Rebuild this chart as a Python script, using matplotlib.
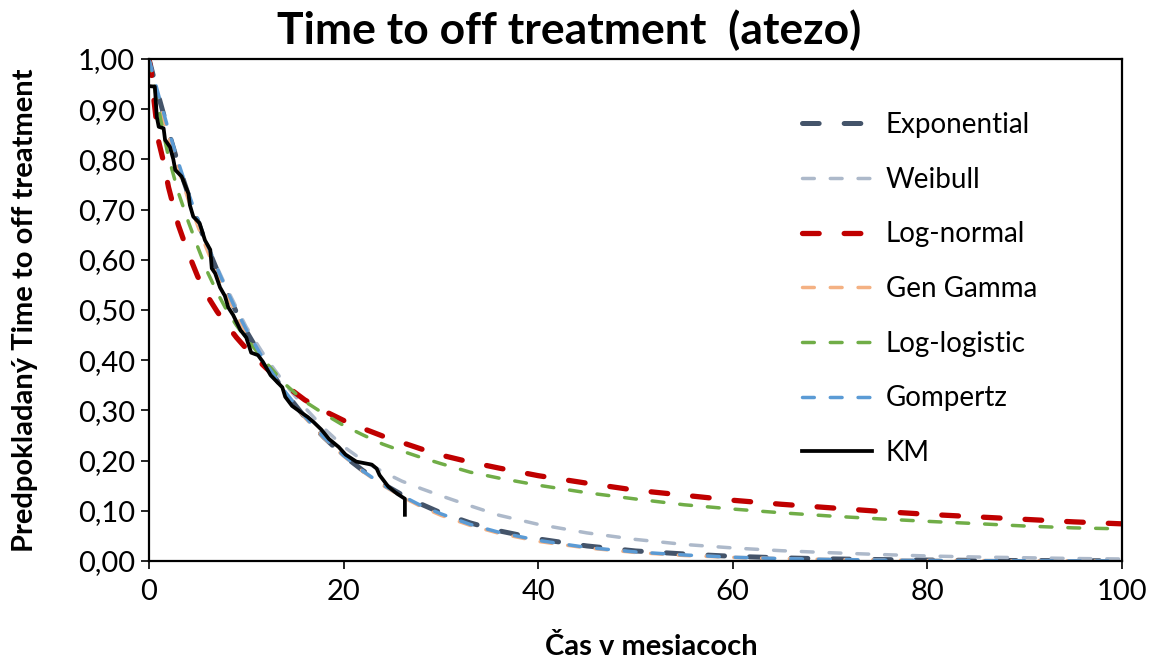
import numpy as np
import matplotlib
matplotlib.use('Agg')
import matplotlib.pyplot as plt
from matplotlib.ticker import FuncFormatter

plt.rcParams['font.family'] = ['Lato', 'DejaVu Sans']
plt.rcParams['lines.scale_dashes'] = False

# months at which the fitted survival curves are tabulated
t_fit = [0, 0.25, 0.5, 1, 1.5, 2, 3, 4, 5, 6, 7, 8, 9, 10, 12, 14, 16, 18, 20, 22,
         24, 26, 28, 30, 33, 36, 40, 45, 50, 55, 60, 65, 70, 75, 80, 85, 90, 95, 100]

exp_s = [1.000, 0.981, 0.962, 0.925, 0.890, 0.856, 0.791, 0.732, 0.677, 0.626, 0.579,
         0.536, 0.495, 0.458, 0.392, 0.336, 0.287, 0.246, 0.210, 0.180, 0.154, 0.132,
         0.113, 0.096, 0.076, 0.060, 0.044, 0.030, 0.020, 0.014, 0.0093, 0.0063, 0.0042,
         0.0029, 0.0019, 0.0013, 0.0009, 0.0006, 0.0004]
weib_s = [1.000, 0.975, 0.955, 0.918, 0.884, 0.851, 0.789, 0.732, 0.679, 0.630, 0.585,
          0.543, 0.504, 0.466, 0.405, 0.352, 0.306, 0.264, 0.228, 0.200, 0.178, 0.159,
          0.144, 0.130, 0.110, 0.091, 0.073, 0.056, 0.043, 0.033, 0.026, 0.0205, 0.0165,
          0.013, 0.010, 0.008, 0.0065, 0.005, 0.004]
lnorm_s = [1.000, 0.970, 0.920, 0.835, 0.795, 0.745, 0.670, 0.615, 0.567, 0.528, 0.497,
           0.470, 0.445, 0.423, 0.385, 0.350, 0.321, 0.299, 0.280, 0.264, 0.249, 0.236,
           0.223, 0.211, 0.197, 0.185, 0.170, 0.155, 0.141, 0.131, 0.121, 0.113, 0.106,
           0.099, 0.093, 0.088, 0.083, 0.078, 0.074]
gamma_s = [1.000, 0.975, 0.955, 0.915, 0.878, 0.845, 0.781, 0.722, 0.668, 0.618, 0.572,
           0.530, 0.490, 0.454, 0.389, 0.334, 0.286, 0.245, 0.209, 0.178, 0.151, 0.128,
           0.108, 0.091, 0.071, 0.055, 0.039, 0.026, 0.017, 0.011, 0.0072, 0.0047, 0.0031,
           0.0020, 0.0013, 0.0009, 0.0006, 0.0004, 0.0003]
llog_s = [1.000, 0.975, 0.950, 0.900, 0.850, 0.805, 0.735, 0.678, 0.626, 0.576, 0.535,
          0.499, 0.469, 0.443, 0.396, 0.352, 0.318, 0.293, 0.270, 0.251, 0.233, 0.219,
          0.206, 0.194, 0.177, 0.165, 0.151, 0.136, 0.1235, 0.112, 0.1035, 0.096, 0.0896,
          0.084, 0.079, 0.0745, 0.0697, 0.066, 0.064]
gomp_s = [1.000, 0.982, 0.963, 0.927, 0.893, 0.859, 0.795, 0.736, 0.681, 0.630, 0.583,
          0.539, 0.498, 0.461, 0.394, 0.337, 0.288, 0.246, 0.210, 0.179, 0.152, 0.130,
          0.110, 0.094, 0.073, 0.057, 0.041, 0.027, 0.018, 0.012, 0.0075, 0.0048, 0.0031,
          0.0019, 0.0012, 0.0008, 0.0005, 0.0003, 0.0002]

# Kaplan-Meier estimate
km_t = [0, 0.6, 0.8, 1.0, 1.5, 1.65, 2.15, 2.5, 2.7, 3.35, 4.05, 4.2, 4.55, 5.2, 5.75,
        6.3, 6.45, 6.8, 7.3, 7.8, 8.15, 8.65, 9.4, 10.0, 10.5, 11.2, 11.7, 12.5, 13.7,
        14.0, 14.7, 15.7, 16.3, 16.9, 17.7, 18.5, 19.5, 20.2, 21.3, 22.9, 23.4, 23.7,
        24.6, 25.5, 26.3, 26.3]
km_s = [0.946, 0.945, 0.885, 0.865, 0.862, 0.839, 0.825, 0.800, 0.779, 0.766, 0.732,
        0.709, 0.686, 0.673, 0.639, 0.620, 0.583, 0.573, 0.545, 0.528, 0.505, 0.490,
        0.460, 0.445, 0.415, 0.410, 0.397, 0.370, 0.346, 0.327, 0.309, 0.295, 0.287,
        0.277, 0.262, 0.243, 0.227, 0.212, 0.198, 0.192, 0.184, 0.171, 0.148, 0.134,
        0.124, 0.092]

fig = plt.figure(figsize=(11.53, 6.64), dpi=100)
ax = fig.add_axes([149/1153, 1 - 561/664, 973/1153, 502/664])

long_dash = (0, (12, 18))
short_dash = (0, (8.5, 11.5))
ax.plot(t_fit, exp_s, color='#44546A', lw=3.6, ls=long_dash, dash_capstyle='round', label='Exponential')
ax.plot(t_fit, weib_s, color='#ADB9CA', lw=2.5, ls=short_dash, dash_capstyle='round', label='Weibull')
ax.plot(t_fit, lnorm_s, color='#C00000', lw=3.8, ls=long_dash, dash_capstyle='round', label='Log-normal')
ax.plot(t_fit, gamma_s, color='#F4B183', lw=2.5, ls=short_dash, dash_capstyle='round', label='Gen Gamma')
ax.plot(t_fit, llog_s, color='#70AD47', lw=2.5, ls=short_dash, dash_capstyle='round', label='Log-logistic')
ax.plot(t_fit, gomp_s, color='#5B9BD5', lw=2.5, ls=short_dash, dash_capstyle='round', label='Gompertz')
ax.plot(km_t, km_s, color='black', lw=2.7, label='KM')

ax.set_xlim(0, 100)
ax.set_ylim(0, 1)
ax.set_xticks(range(0, 101, 20))
ax.set_yticks(np.arange(0, 1.01, 0.1))
ax.yaxis.set_major_formatter(FuncFormatter(lambda v, p: f'{v:.2f}'.replace('.', ',')))
ax.tick_params(direction='out', length=6, width=1.2, labelsize=21)
ax.tick_params(axis='y', pad=4)
ax.tick_params(axis='x', pad=7)
for sp in ax.spines.values():
    sp.set_linewidth(1.6)

ax.legend(loc='upper left', bbox_to_anchor=(0.671, 0.894), frameon=False,
          fontsize=20, handlelength=2.52, handletextpad=0.5, labelspacing=1.03,
          borderaxespad=0, borderpad=0)

fig.text(0.494, 0.955, 'Time to off treatment  (atezo)', ha='center', va='center',
         fontsize=32, fontweight='bold')
fig.text(0.022, 1 - (561 + 59) / 2 / 664, 'Predpokladaný Time to off treatment',
         rotation=90, ha='center', va='center', fontsize=21, fontweight='bold')
fig.text(651 / 1153, 1 - 647 / 664, 'Čas v mesiacoch', ha='center',
         va='center', fontsize=21, fontweight='bold')

fig.savefig('out.png', dpi=100)
